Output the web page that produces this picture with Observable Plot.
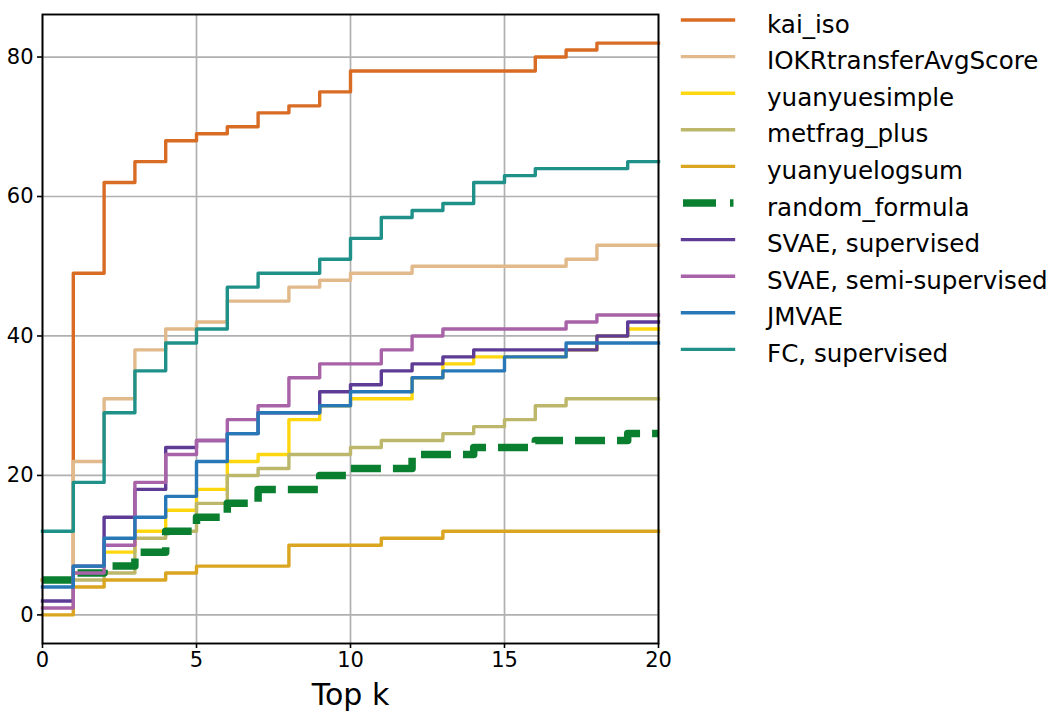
<!DOCTYPE html>
<html>
<head>
<meta charset="utf-8">
<script src="https://cdn.jsdelivr.net/npm/d3@7"></script>
<script src="https://cdn.jsdelivr.net/npm/@observablehq/plot@0.6"></script>
<style>
  html, body { margin: 0; padding: 0; background: white; }
  #wrap { position: relative; width: 1053px; height: 712px; overflow: hidden; }
  #legend { position: absolute; left: 0; top: 0; }
</style>
</head>
<body>
<div id="wrap"></div>
<script>
// ---- data ----
const topK = [0,1,2,3,4,5,6,7,8,9,10,11,12,13,14,15,16,17,18,19,20];

const kaiIso        = [5,49,62,65,68,69,70,72,73,75,78,78,78,78,78,78,80,81,82,82,82];
const iokrTransfer  = [5,22,31,38,41,42,45,45,47,48,49,49,50,50,50,50,50,51,53,53,53];
const yuanyueSimple = [5,6,9,12,15,18,22,23,28,30,31,31,34,36,37,37,37,38,40,41,41];
const metfragPlus   = [5,5,6,11,12,16,20,21,23,23,24,25,25,26,27,28,30,31,31,31,31];
const yuanyueLogsum = [0,4,5,5,6,7,7,7,10,10,10,11,11,12,12,12,12,12,12,12,12];
const randomFormula = [5,6,7,9,12,14,16,18,18,20,21,21,23,23,24,24,25,25,25,26,26];
const svaeSup       = [2,7,14,18,24,25,26,29,29,32,33,35,36,37,38,38,38,38,40,42,42];
const svaeSemi      = [1,6,10,19,23,25,28,30,34,36,36,38,40,41,41,41,41,42,43,43,43];
const jmvae         = [4,7,11,14,17,22,26,29,29,30,32,32,34,35,35,37,37,39,39,39,39];
const fcSup         = [12,19,29,35,39,41,47,49,49,51,54,57,58,59,62,63,64,64,64,65,65];

const seriesNames  = ["kai_iso","IOKRtransferAvgScore","yuanyuesimple","metfrag_plus","yuanyuelogsum","random_formula","SVAE, supervised","SVAE, semi-supervised","JMVAE","FC, supervised"];
const seriesValues = [kaiIso, iokrTransfer, yuanyueSimple, metfragPlus, yuanyueLogsum, randomFormula, svaeSup, svaeSemi, jmvae, fcSup];
const seriesColors = ["#d86c25","#e2b98a","#ffd70f","#bdb76b","#daa520","#0b7f30","#5e3c96","#a863a8","#2878b8","#1f9189"];
const dashedSeries = ["random_formula"];

const xTicks = [0,5,10,15,20];
const yTicks = [0,20,40,60,80];

// ---- chart ----
const FONT = "DejaVu Sans, Liberation Sans, sans-serif";

const lineMarks = seriesNames.map((name, si) => {
  const rows = topK.map((k, i) => ({k, v: seriesValues[si][i]}));
  const dashed = dashedSeries.includes(name);
  return Plot.line(rows, {
    x: "k", y: "v", curve: "step-after",
    stroke: seriesColors[si],
    strokeWidth: dashed ? 7.5 : 3.4,
    strokeDasharray: dashed ? "30,12" : null,
    strokeLinecap: dashed ? "butt" : "square",
    strokeLinejoin: "round"
  });
});

const chart = Plot.plot({
  width: 1053,
  height: 712,
  marginLeft: 42,
  marginRight: 395,
  marginTop: 14,
  marginBottom: 69,
  style: {fontFamily: FONT, fontSize: "21px", color: "black", background: "white", overflow: "visible"},
  x: {domain: [0, 20]},
  y: {domain: [-4.1, 86.1]},
  marks: [
    Plot.gridX(xTicks, {stroke: "#b0b0b0", strokeOpacity: 1, strokeWidth: 1.7}),
    Plot.gridY(yTicks, {stroke: "#b0b0b0", strokeOpacity: 1, strokeWidth: 1.7}),
    ...lineMarks,
    Plot.frame({stroke: "black", strokeWidth: 1.9}),
    Plot.axisX(xTicks, {tickSize: 5, tickPadding: 4, strokeWidth: 1.6, fontSize: 21, label: null}),
    Plot.axisY(yTicks, {tickSize: 5, tickPadding: 4, strokeWidth: 1.6, fontSize: 21, label: null}),
    Plot.text(["Top k"], {frameAnchor: "bottom", dy: 52, fontSize: 30, lineAnchor: "middle", fill: "black"})
  ]
});

const wrap = document.getElementById("wrap");
wrap.appendChild(chart);

// ---- legend (outside the plot area, on the right) ----
const ns = "http://www.w3.org/2000/svg";
const leg = document.createElementNS(ns, "svg");
leg.setAttribute("id", "legend");
leg.setAttribute("width", 1053);
leg.setAttribute("height", 712);
leg.style.position = "absolute";
leg.style.left = "0px";
leg.style.top = "0px";
leg.style.pointerEvents = "none";
const rowY0 = 20, rowStep = 36.6;
seriesNames.forEach((name, i) => {
  const y = rowY0 + i * rowStep;
  const dashed = dashedSeries.includes(name);
  const ln = document.createElementNS(ns, "line");
  ln.setAttribute("x1", dashed ? 683 : 682.5);
  ln.setAttribute("x2", 733.5);
  ln.setAttribute("y1", y);
  ln.setAttribute("y2", y);
  ln.setAttribute("stroke", seriesColors[i]);
  ln.setAttribute("stroke-width", dashed ? 7.5 : 3.4);
  if (dashed) ln.setAttribute("stroke-dasharray", "33,14");
  ln.setAttribute("stroke-linecap", dashed ? "butt" : "square");
  leg.appendChild(ln);
  const tx = document.createElementNS(ns, "text");
  tx.setAttribute("x", 767);
  tx.setAttribute("y", y + 12.5);
  tx.setAttribute("font-family", FONT);
  tx.setAttribute("font-size", 24.6);
  tx.setAttribute("fill", "black");
  tx.textContent = name;
  leg.appendChild(tx);
});
wrap.appendChild(leg);
</script>
</body>
</html>
